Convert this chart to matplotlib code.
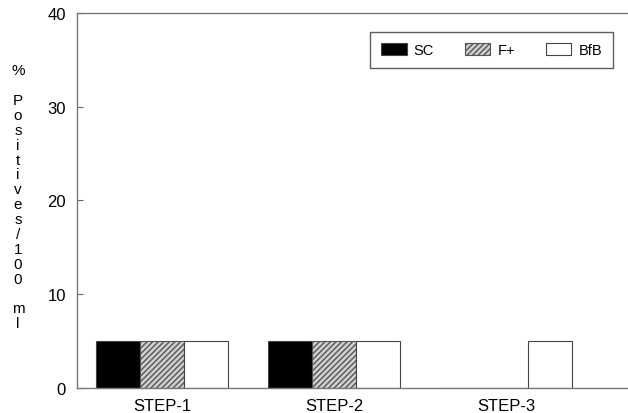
import numpy as np
import matplotlib
matplotlib.use("Agg")
import matplotlib.pyplot as plt

plt.rcParams['font.family'] = ['Liberation Sans', 'DejaVu Sans']

# values
steps = ['STEP-1', 'STEP-2', 'STEP-3']
sc = [5, 5, 0]
f_plus = [5, 5, 0]
bfb = [5, 5, 5]

fig = plt.figure(figsize=(6.28, 4.14), dpi=100)
ax = fig.add_axes([0.1226, 0.0604, 0.8774, 0.9058])

x = np.arange(len(steps))
w = 0.256
edge = '#444444'
ax.bar(x - w, sc, w, color='black', edgecolor=edge, linewidth=0.8, label='SC')
ax.bar(x, f_plus, w, color='#d0d0d0', edgecolor='#555555', linewidth=0.8,
       hatch='//////', label='F+')
ax.bar(x + w, bfb, w, color='white', edgecolor=edge, linewidth=0.8, label='BfB')

ax.set_xlim(-0.494, 2.709)
ax.set_ylim(0, 40)
ax.set_yticks([0, 10, 20, 30, 40])
ax.set_xticks(x)
ax.set_xticklabels(steps, fontsize=12)
ax.tick_params(axis='x', length=0, pad=7)
ax.tick_params(axis='y', direction='in', length=4, pad=8, labelsize=12,
               color='#666666')

for side in ['left', 'top', 'bottom']:
    ax.spines[side].set_color('#777777')
    ax.spines[side].set_linewidth(1)
ax.spines['right'].set_visible(False)

label = '%\n\nP\no\ns\ni\nt\ni\nv\ne\ns\n/\n1\n0\n0\n\nm\nl'
ax.set_ylabel(label, rotation=0, fontsize=11, linespacing=1.08,
              va='center', ha='center')
ax.yaxis.set_label_coords(-0.107, 0.51)

leg = ax.legend(loc='upper right', bbox_to_anchor=(0.973, 0.949), ncol=3,
                frameon=True, fancybox=False, fontsize=10.5,
                handlelength=1.75, handleheight=0.9, handletextpad=0.5,
                columnspacing=2.1, borderpad=0.75, borderaxespad=0)
leg.get_frame().set_edgecolor('#333333')
leg.get_frame().set_linewidth(1)

plt.savefig('out.png', dpi=100)
